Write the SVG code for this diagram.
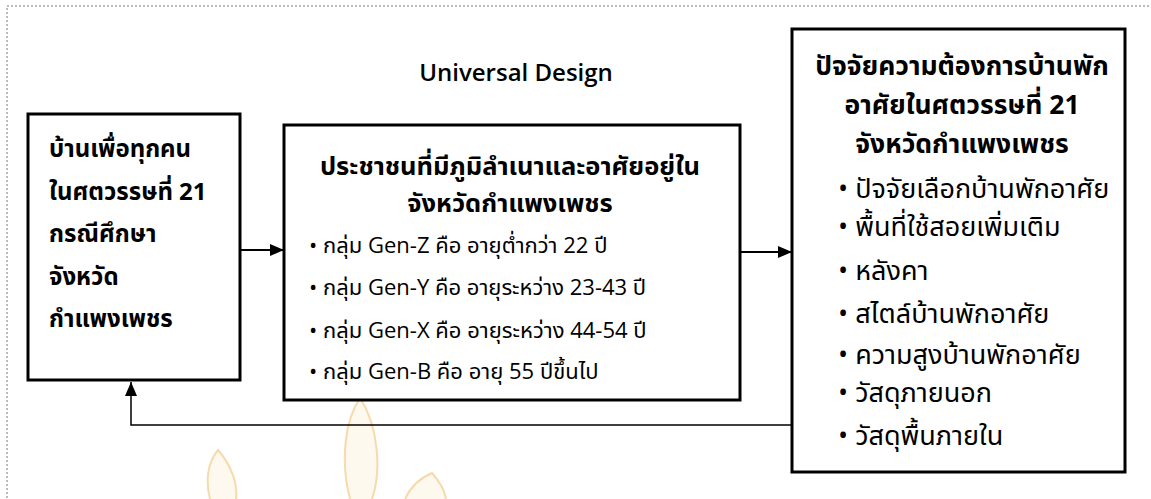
<svg xmlns="http://www.w3.org/2000/svg" width="1151" height="499" viewBox="0 0 1151 499">
<style>
.box{fill:#fff;stroke:#000;stroke-width:3}
.t{font-family:"Open Sans","Noto Sans Thai","Noto Sans","DejaVu Sans",sans-serif;font-size:22px;fill:#000}
.b{font-weight:bold}
.c{text-anchor:middle}
.h1{font-size:24px}
.h2{font-size:25.5px}
.h3{font-size:26.5px}
.l3{font-size:27px}
.ud{font-size:24px;font-weight:600}
.ln{stroke:#000;stroke-width:2.2;fill:none}
.fb{stroke:#000;stroke-width:1.5;fill:none}
.wm{fill:#fbe6c0;fill-opacity:0.25;stroke:#f0bd6e;stroke-width:2;stroke-opacity:0.55}
</style>
<defs>
<marker id="ah" viewBox="0 0 14 12" refX="14" refY="6" markerWidth="14" markerHeight="12" markerUnits="userSpaceOnUse" orient="auto">
<path d="M0,0 L14,6 L0,12 Z" fill="#000"/>
</marker>
</defs>
<rect width="1151" height="499" fill="#fff"/>
<rect x="7" y="6" width="1160" height="520" fill="none" stroke="#777" stroke-width="1" stroke-dasharray="2,2"/>
<g id="watermark">
<path class="wm" d="M350,499 C340,460 345,420 360,398 C378,425 382,470 372,499"/>
<path class="wm" d="M210,499 C205,480 208,462 218,450 C232,466 238,485 236,499"/>
<path class="wm" d="M405,499 C410,488 420,478 432,473 C440,482 445,492 446,499"/>
</g>
<text class="t c ud" x="516" y="81">Universal Design</text>
<g id="connectors">
<line class="ln" x1="241" y1="250" x2="284" y2="250" marker-end="url(#ah)"/>
<line class="ln" x1="741" y1="252" x2="792" y2="252" marker-end="url(#ah)"/>
<polyline class="fb" points="791,425 131,425 131,382" marker-end="url(#ah)"/>
</g>
<g id="node1">
<rect class="box" x="28" y="114" width="212" height="266"/>
<text class="t b h1" x="49" y="157">บ้านเพื่อทุกคน</text>
<text class="t b h1" x="49" y="200">ในศตวรรษที่ 21</text>
<text class="t b h1" x="49" y="242">กรณีศึกษา</text>
<text class="t b h1" x="49" y="285">จังหวัด</text>
<text class="t b h1" x="49" y="327">กำแพงเพชร</text>
</g>
<g id="node2">
<rect class="box" x="284" y="125" width="456" height="275"/>
<text class="t b c h2" x="510" y="175">ประชาชนที่มีภูมิลำเนาและอาศัยอยู่ใน</text>
<text class="t b c h2" x="510" y="212">จังหวัดกำแพงเพชร</text>
<text class="t" x="309" y="253">• กลุ่ม Gen-Z คือ อายุต่ำกว่า 22 ปี</text>
<text class="t" x="309" y="295">• กลุ่ม Gen-Y คือ อายุระหว่าง 23-43 ปี</text>
<text class="t" x="309" y="338">• กลุ่ม Gen-X คือ อายุระหว่าง 44-54 ปี</text>
<text class="t" x="309" y="379">• กลุ่ม Gen-B คือ อายุ 55 ปีขึ้นไป</text>
</g>
<g id="node3">
<rect class="box" x="792" y="29" width="333" height="443"/>
<text class="t b c h3" x="962" y="75">ปัจจัยความต้องการบ้านพัก</text>
<text class="t b c h3" x="962" y="114">อาศัยในศตวรรษที่ 21</text>
<text class="t b c h3" x="962" y="153">จังหวัดกำแพงเพชร</text>
<text class="t l3" x="838" y="198">• ปัจจัยเลือกบ้านพักอาศัย</text>
<text class="t l3" x="838" y="236">• พื้นที่ใช้สอยเพิ่มเติม</text>
<text class="t l3" x="838" y="280">• หลังคา</text>
<text class="t l3" x="838" y="323">• สไตล์บ้านพักอาศัย</text>
<text class="t l3" x="838" y="364">• ความสูงบ้านพักอาศัย</text>
<text class="t l3" x="838" y="402">• วัสดุภายนอก</text>
<text class="t l3" x="838" y="445">• วัสดุพื้นภายใน</text>
</g>
</svg>
